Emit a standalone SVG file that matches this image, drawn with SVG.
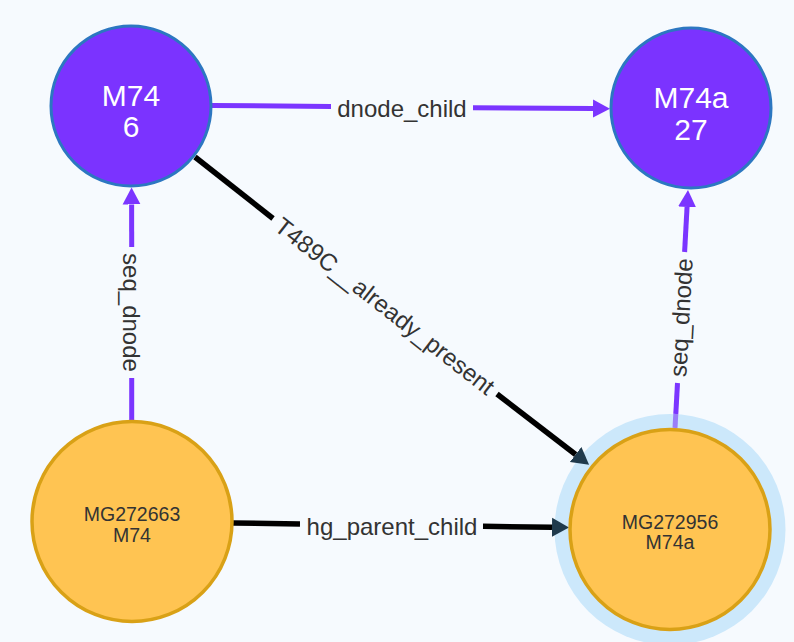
<svg xmlns="http://www.w3.org/2000/svg" width="794" height="642" viewBox="0 0 794 642">
  <style>
    .bg { fill: #f6fafe; }
    .pnode { fill: #7b33ff; stroke: #2c77c1; stroke-width: 3; }
    .onode { fill: #ffc452; stroke: #d9a116; stroke-width: 3.5; }
    .halo { fill: #cce8fb; }
    .ptxt { font-family: "Liberation Sans", Arial, sans-serif; font-size: 30px; fill: #ffffff; text-anchor: middle; }
    .otxt { font-family: "Liberation Sans", Arial, sans-serif; font-size: 19.5px; fill: #333333; text-anchor: middle; }
    .elbl { font-family: "Liberation Sans", Arial, sans-serif; font-size: 24px; fill: #333333; text-anchor: middle; }
    .pe { stroke: #7b35ff; stroke-width: 5; fill: none; }
    .pe-soft { stroke: #9a7ef8; stroke-width: 5; fill: none; }
    .be { stroke: #000000; stroke-width: 5.5; fill: none; }
  </style>
  <defs>
    <marker id="arrP" viewBox="0 -10 18 20" refX="0" refY="0" markerWidth="18" markerHeight="20" markerUnits="userSpaceOnUse" orient="auto">
      <path d="M0,-9 L17,0 L0,9 Z" fill="#7b35ff"/>
    </marker>
    <marker id="arrB" viewBox="0 -10 18 20" refX="0" refY="0" markerWidth="18" markerHeight="20" markerUnits="userSpaceOnUse" orient="auto">
      <path d="M0,-9.5 L17,0 L0,9.5 Z" fill="#1f3a4c"/>
    </marker>
  </defs>
  <rect class="bg" x="0" y="0" width="794" height="642"/>

  <g id="node-MG272956-halo">
    <circle class="halo" cx="670" cy="529.5" r="115.5"/>
  </g>

  <g id="connectors">
    <g id="edge-dnode_child">
      <line class="pe" x1="212" y1="105.5" x2="331" y2="106.5"/>
      <line class="pe" x1="473" y1="107.7" x2="593" y2="108.6" marker-end="url(#arrP)"/>
      <text class="elbl" x="402" y="117">dnode_child</text>
    </g>
    <g id="edge-T489C">
      <line class="be" x1="195" y1="157" x2="273" y2="218.5"/>
      <line class="be" x1="497" y1="394" x2="575.6" y2="454.5" marker-end="url(#arrB)"/>
      <text class="elbl" x="0" y="0" dominant-baseline="central" transform="translate(385,306) rotate(38)">T489C__already_present</text>
    </g>
    <g id="edge-seq_dnode-left">
      <line class="pe" x1="131.7" y1="420" x2="131.7" y2="378"/>
      <line class="pe" x1="131.7" y1="247" x2="131.6" y2="204.5" marker-end="url(#arrP)"/>
      <text class="elbl" x="0" y="0" dominant-baseline="central" transform="translate(131.5,312.5) rotate(90)">seq_dnode</text>
    </g>
    <g id="edge-seq_dnode-right">
      <line class="pe-soft" x1="675" y1="428" x2="675.8" y2="414"/>
      <line class="pe" x1="675.8" y1="414" x2="677.5" y2="383"/>
      <line class="pe" x1="684.6" y1="252" x2="687.07" y2="206.97" marker-end="url(#arrP)"/>
      <text class="elbl" x="0" y="0" dominant-baseline="central" transform="translate(681,317.5) rotate(-86.9)">seq_dnode</text>
    </g>
    <g id="edge-hg_parent_child">
      <line class="be" x1="233" y1="523" x2="300" y2="523.9"/>
      <line class="be" x1="483" y1="526.3" x2="552" y2="527.2" marker-end="url(#arrB)"/>
      <text class="elbl" x="392" y="535">hg_parent_child</text>
    </g>
  </g>

  <g id="node-M74">
    <circle class="pnode" cx="131" cy="106" r="80"/>
    <text class="ptxt" x="131" y="105.7">M74</text>
    <text class="ptxt" x="131" y="136.7">6</text>
  </g>
  <g id="node-M74a">
    <circle class="pnode" cx="691" cy="108" r="80"/>
    <text class="ptxt" x="691" y="107.7">M74a</text>
    <text class="ptxt" x="691" y="139.5">27</text>
  </g>
  <g id="node-MG272663">
    <circle class="onode" cx="132" cy="521.5" r="100"/>
    <text class="otxt" x="132" y="521.3">MG272663</text>
    <text class="otxt" x="132" y="541.6">M74</text>
  </g>
  <g id="node-MG272956">
    <circle class="onode" cx="670" cy="529.5" r="100"/>
    <text class="otxt" x="670" y="528.8">MG272956</text>
    <text class="otxt" x="670" y="548.6">M74a</text>
  </g>
</svg>
